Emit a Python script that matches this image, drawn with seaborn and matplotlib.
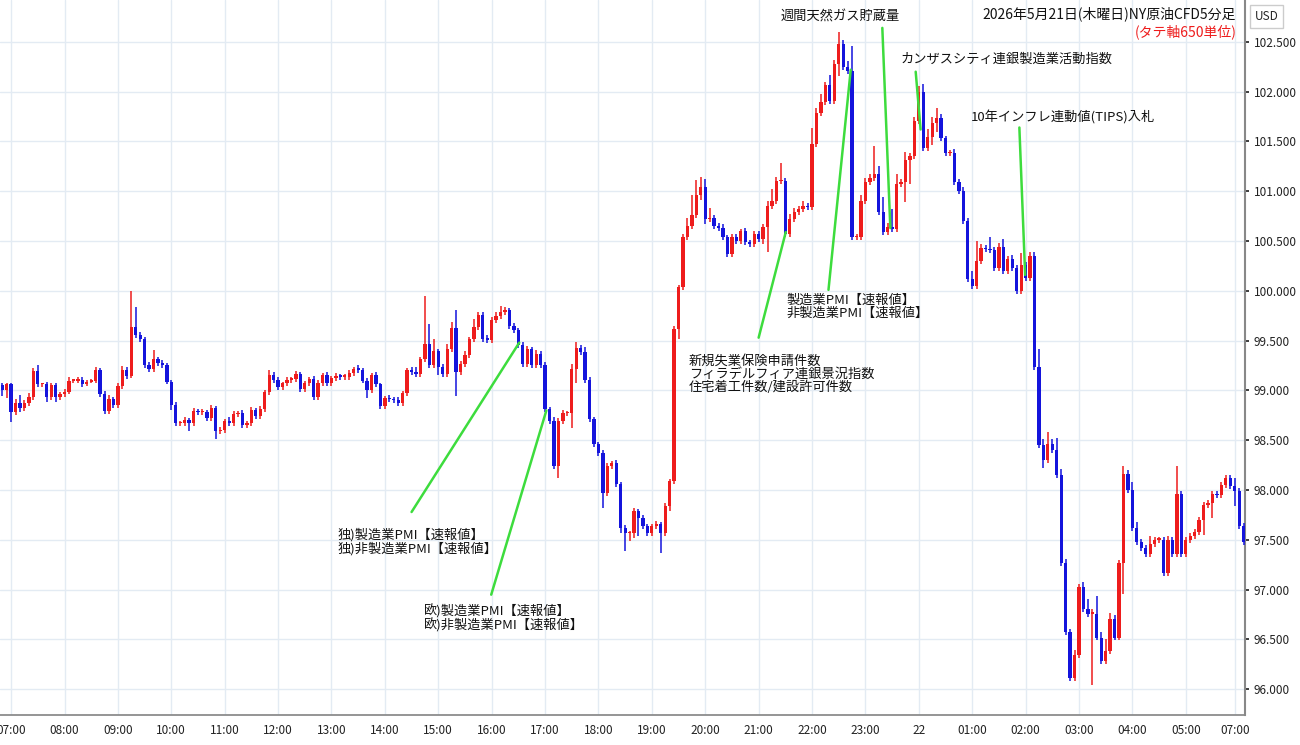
import numpy as np
import matplotlib
matplotlib.use("Agg")
import matplotlib.pyplot as plt
import seaborn as sns

# ---- data (5-minute closes) ----
pre_close = [99.00, 99.06]
h07 = [98.78, 98.87, 98.82, 98.87, 98.93, 99.20, 99.06, 99.06, 98.93, 99.05, 98.93, 98.96]
h08 = [98.98, 99.10, 99.10, 99.11, 99.06, 99.09, 99.10, 99.21, 98.96, 98.79, 98.91, 98.85]
h09 = [99.04, 99.21, 99.15, 99.64, 99.56, 99.52, 99.26, 99.22, 99.32, 99.28, 99.26, 99.09]
h10 = [98.85, 98.67, 98.67, 98.70, 98.67, 98.79, 98.78, 98.78, 98.72, 98.82, 98.59, 98.60]
h11 = [98.69, 98.67, 98.76, 98.77, 98.65, 98.67, 98.80, 98.74, 98.81, 98.98, 99.16, 99.11]
h12 = [99.03, 99.07, 99.11, 99.12, 99.17, 99.01, 99.07, 99.12, 98.93, 99.07, 99.16, 99.07]
h13 = [99.13, 99.15, 99.14, 99.14, 99.18, 99.22, 99.21, 99.10, 99.00, 99.16, 99.06, 98.84]
h14 = [98.92, 98.91, 98.90, 98.87, 98.97, 99.21, 99.19, 99.17, 99.32, 99.47, 99.26, 99.40]
h15 = [99.24, 99.17, 99.42, 99.63, 99.19, 99.27, 99.36, 99.52, 99.64, 99.76, 99.52, 99.51]
h16 = [99.71, 99.75, 99.79, 99.81, 99.65, 99.61, 99.46, 99.27, 99.42, 99.26, 99.37, 99.26]
h17 = [98.81, 98.69, 98.24, 98.69, 98.77, 98.77, 99.22, 99.43, 99.39, 99.11, 98.71, 98.46]
h18 = [98.37, 97.97, 98.24, 98.27, 98.06, 97.62, 97.57, 97.57, 97.79, 97.72, 97.64, 97.57]
h19 = [97.64, 97.66, 97.57, 97.84, 98.09, 99.62, 100.04, 100.54, 100.65, 100.76, 100.96, 101.04]
h20 = [100.72, 100.73, 100.65, 100.63, 100.54, 100.37, 100.54, 100.50, 100.60, 100.49, 100.47, 100.57]
h21 = [100.52, 100.64, 100.85, 100.90, 101.10, 101.10, 100.57, 100.72, 100.79, 100.82, 100.85, 100.84]
h22 = [101.47, 101.79, 101.90, 102.07, 101.91, 102.28, 102.48, 102.25, 102.21, 100.54, 100.54, 100.90]
h23 = [101.09, 101.13, 101.17, 100.79, 100.59, 100.64, 100.62, 101.07, 101.09, 101.31, 101.35, 101.71]
h00 = [102.00, 101.43, 101.54, 101.69, 101.74, 101.53, 101.38, 101.38, 101.09, 101.00, 100.70, 100.12]
h01 = [100.05, 100.30, 100.43, 100.42, 100.41, 100.23, 100.44, 100.20, 100.32, 100.23, 100.00, 100.26]
h02 = [100.13, 100.35, 99.24, 98.45, 98.30, 98.46, 98.40, 98.15, 97.27, 96.58, 96.11, 96.34]
h03 = [97.03, 96.81, 96.76, 96.76, 96.52, 96.28, 96.38, 96.71, 96.52, 97.27, 98.16, 98.00]
h04 = [97.62, 97.48, 97.42, 97.36, 97.46, 97.50, 97.50, 97.17, 97.50, 97.36, 97.96, 97.36]
h05 = [97.50, 97.54, 97.58, 97.70, 97.85, 97.87, 97.96, 97.95, 98.05, 98.12, 98.04]
h07b = [97.99, 97.64, 97.48]
first_open = 99.05

# upper / lower wick lengths in 0.01 units
up_w = [3, 2,
 2, 4, 8, 3, 4, 3, 6, 2, 3, 2, 3, 2,
 3, 4, 2, 3, 3, 2, 2, 3, 2, 3, 4, 2,
 3, 4, 3, 36, 20, 3, 2, 3, 9, 2, 3, 2,
 2, 3, 2, 3, 2, 3, 2, 3, 2, 3, 2, 3,
 2, 4, 3, 2, 3, 2, 3, 2, 3, 2, 5, 3,
 3, 2, 3, 2, 3, 2, 3, 2, 3, 4, 2, 3,
 2, 3, 2, 3, 3, 2, 4, 2, 3, 2, 3, 2,
 2, 3, 2, 3, 2, 2, 3, 5, 2, 48, 20, 12,
 2, 3, 5, 6, 18, 3, 4, 2, 8, 3, 3, 4,
 3, 4, 6, 3, 2, 3, 2, 3, 3, 2, 4, 3,
 3, 2, 4, 3, 3, 2, 5, 6, 3, 5, 3, 2,
 2, 3, 3, 2, 3, 2, 3, 2, 3, 2, 3, 2,
 2, 3, 2, 3, 2, 3, 2, 3, 8, 20, 15, 10,
 8, 10, 3, 3, 4, 2, 3, 3, 2, 3, 2, 3,
 3, 3, 5, 12, 4, 18, 3, 5, 4, 3, 5, 3,
 16, 5, 8, 3, 10, 4, 12, 4, 6, 25, 3, 6,
 4, 4, 28, 8, 15, 4, 18, 10, 3, 8, 3, 4,
 6, 8, 8, 6, 10, 4, 2, 3, 4, 3, 4, 3,
 8, 20, 4, 3, 12, 3, 4, 8, 3, 4, 3, 12,
 3, 4, 4, 18, 6, 12, 5, 12, 6, 4, 3, 5,
 3, 5, 10, 5, 18, 6, 12, 6, 4, 3, 8, 4,
 8, 6, 3, 3, 8, 3, 3, 3, 4, 3, 28, 3,
 3, 3, 3, 3, 3, 3, 3, 3, 3, 3, 3,
 8, 3, 3]
lo_w = [6, 8,
 10, 3, 4, 3, 3, 3, 3, 3, 5, 3, 5, 3,
 3, 2, 3, 2, 3, 2, 2, 3, 3, 3, 3, 3,
 3, 3, 3, 2, 3, 3, 3, 3, 3, 3, 3, 3,
 5, 3, 3, 3, 8, 3, 3, 3, 3, 3, 8, 3,
 3, 3, 3, 3, 3, 3, 3, 3, 3, 3, 3, 3,
 3, 3, 3, 3, 3, 3, 3, 3, 3, 3, 3, 3,
 3, 3, 3, 3, 3, 3, 3, 3, 8, 3, 3, 3,
 3, 3, 3, 3, 3, 3, 3, 3, 3, 3, 3, 3,
 8, 3, 3, 3, 25, 3, 3, 3, 3, 3, 3, 3,
 3, 3, 3, 3, 3, 3, 3, 3, 3, 3, 3, 3,
 3, 3, 3, 12, 3, 3, 15, 15, 3, 3, 3, 3,
 3, 15, 3, 3, 3, 5, 18, 8, 5, 18, 3, 3,
 3, 3, 20, 3, 5, 3, 10, 3, 3, 3, 3, 5,
 5, 3, 3, 3, 3, 3, 3, 3, 3, 3, 3, 3,
 3, 5, 25, 3, 3, 3, 3, 3, 3, 3, 3, 3,
 3, 3, 3, 3, 3, 3, 12, 3, 3, 3, 3, 3,
 3, 3, 3, 3, 3, 3, 3, 3, 3, 20, 24, 3,
 3, 3, 3, 8, 10, 3, 3, 3, 3, 3, 3, 3,
 3, 3, 3, 3, 3, 3, 3, 3, 3, 3, 3, 3,
 3, 3, 3, 3, 8, 3, 3, 3, 3, 3, 3, 3,
 3, 3, 3, 72, 3, 3, 3, 3, 3, 3, 31, 3,
 3, 3, 3, 3, 3, 3, 3, 3, 3, 3, 3, 3,
 3, 3, 3, 3, 15, 3, 15, 3, 3, 3, 3, 15,
 3, 3, 3, 3, 3, 3, 3, 3, 3, 3, 3,
 3, 3, 6]

hour_labels = ["07:00", "08:00", "09:00", "10:00", "11:00", "12:00", "13:00", "14:00",
               "15:00", "16:00", "17:00", "18:00", "19:00", "20:00", "21:00", "22:00",
               "23:00", "22", "01:00", "02:00", "03:00", "04:00", "05:00", "07:00"]
y_ticks = [96.0, 96.5, 97.0, 97.5, 98.0, 98.5, 99.0, 99.5, 100.0, 100.5, 101.0, 101.5, 102.0, 102.5]

closes = np.array(pre_close + h07 + h08 + h09 + h10 + h11 + h12 + h13 + h14 + h15 + h16 + h17
                  + h18 + h19 + h20 + h21 + h22 + h23 + h00 + h01 + h02 + h03 + h04 + h05 + h07b)
n = len(closes)
opens = np.concatenate([[first_open], closes[:-1]])
uw = np.array((up_w + [3] * n)[:n]) / 100.0
lw = np.array((lo_w + [3] * n)[:n]) / 100.0
highs = np.maximum(opens, closes) + uw
lows = np.minimum(opens, closes) - lw
x = np.arange(n)

tick_pos = [2 + 12 * i for i in range(23)] + [277]

sns.set_theme(style="whitegrid")
plt.rcParams['font.family'] = ['Noto Sans CJK JP', 'DejaVu Sans']

fig = plt.figure(figsize=(13, 7.45), dpi=100)
ax = fig.add_axes([0.0, 0.04, 0.958, 0.96])
RED, BLUE = "#ee1c1c", "#1414dc"
upmask = closes >= opens
cols = np.where(upmask, RED, BLUE)
ax.vlines(x, lows, highs, colors=cols, linewidth=1.1, zorder=3)
body_lo = np.minimum(opens, closes)
body_h = np.maximum(np.abs(closes - opens), 0.014)
ax.bar(x, body_h, bottom=body_lo, width=0.74, color=cols, linewidth=0, zorder=4)

ax.set_xlim(-0.5, 279.4)
ax.set_ylim(95.74, 102.92)
ax.set_xticks(tick_pos)
ax.set_xticklabels(hour_labels, fontsize=8.5, color="#222222")
ax.set_yticks(y_ticks)
ax.yaxis.tick_right()
ax.set_yticklabels([f"{v:.3f}" for v in y_ticks], fontsize=8.5, color="#222222")
ax.grid(True, color="#e3ebf3", linewidth=1.0)
for s in ["top", "left"]:
    ax.spines[s].set_visible(False)
ax.spines["right"].set_color("#888888")
ax.spines["right"].set_linewidth(1.5)
ax.spines["bottom"].set_color("#888888")
ax.tick_params(axis="both", length=3, pad=3)

fig.text(0.965, 0.978, "USD", fontsize=8.5, ha="left", va="center",
         bbox=dict(boxstyle="square,pad=0.4", fc="white", ec="#cccccc"))
fig.text(0.951, 0.992, "2026年5月21日(木曜日)NY原油CFD5分足", ha="right", va="top", fontsize=10, color="#111111")
fig.text(0.951, 0.968, "(タテ軸650単位)", ha="right", va="top", fontsize=10, color="#ee1c1c")

GREEN = "#3ddc3d"
ann = [
    ("週間天然ガス貯蔵量", 188.4, 102.75, "center", (197.8, 102.64), (199.6, 100.63)),
    ("カンザスシティ連銀製造業活動指数", 201.9, 102.32, "left", (205.3, 102.2), (206.4, 101.62)),
    ("10年インフレ連動値(TIPS)入札", 217.6, 101.74, "left", (228.6, 101.64), (229.9, 100.16)),
    ("製造業PMI【速報値】\n非製造業PMI【速報値】", 176.3, 99.84, "left", (185.7, 100.01), (190.7, 102.22)),
    ("新規失業保険申請件数\nフィラデルフィア連銀景況指数\n住宅着工件数/建設許可件数", 154.3, 99.16, "left", (170.0, 99.53), (176.1, 100.59)),
    ("独)製造業PMI【速報値】\n独)非製造業PMI【速報値】", 75.4, 97.48, "left", (92.0, 97.78), (116.2, 99.48)),
    ("欧)製造業PMI【速報値】\n欧)非製造業PMI【速報値】", 94.7, 96.71, "left", (109.9, 96.95), (122.3, 98.8)),
]
for txt, tx, ty, ha, p0, p1 in ann:
    ax.plot([p0[0], p1[0]], [p0[1], p1[1]], color=GREEN, linewidth=1.8, zorder=5)
    ax.text(tx, ty, txt, ha=ha, va="center", fontsize=9.5, color="#111111", linespacing=1.0, zorder=6)

fig.savefig("out.png", dpi=100)
